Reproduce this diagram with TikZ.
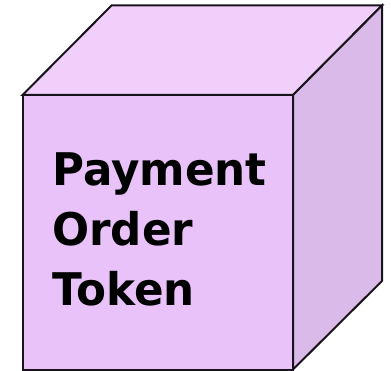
\documentclass[tikz,border=0pt]{standalone}
\usepackage{fontspec}
\newfontfamily\cubefont[FakeStretch=0.97]{DejaVu Sans Bold}
\definecolor{frontc}{RGB}{233,194,250}
\definecolor{topc}{RGB}{240,207,251}
\definecolor{sidec}{RGB}{218,186,232}
\definecolor{edgec}{RGB}{25,20,28}
\begin{document}
\begin{tikzpicture}[x=1pt,y=-1pt,
  face/.style={draw=edgec,line width=2pt,line join=miter},
  label/.style={font=\cubefont\fontsize{45}{60}\selectfont,align=left,anchor=north west,inner sep=0pt,text=black}]
\useasboundingbox (0,0) rectangle (391,371);
\coordinate (fa) at (22.5,95);
\coordinate (fb) at (293,95);
\coordinate (fc) at (293,369.5);
\coordinate (fd) at (22.5,369.5);
\coordinate (ba) at (111.5,5.5);
\coordinate (bb) at (382,5.5);
\coordinate (bc) at (382,281);
\filldraw[face,fill=topc] (fa) -- (ba) -- (bb) -- (fb) -- cycle;
\filldraw[face,fill=sidec] (fb) -- (bb) -- (bc) -- (fc) -- cycle;
\filldraw[face,fill=frontc] (fa) -- (fb) -- (fc) -- (fd) -- cycle;
\node[label] (txt) at (52,152.5) {Payment\\Order\\Token};
\end{tikzpicture}
\end{document}
